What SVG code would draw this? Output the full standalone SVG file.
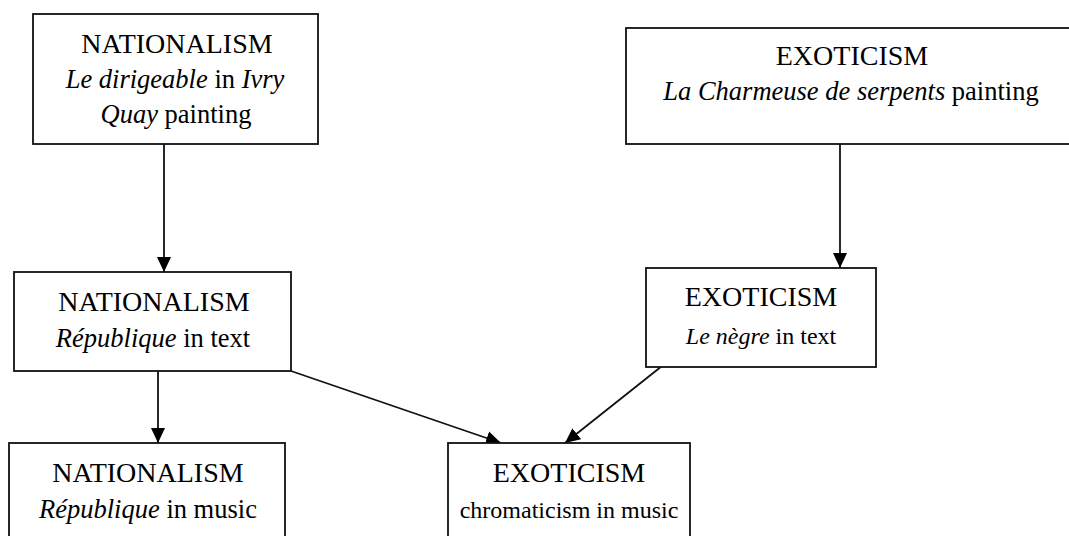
<svg xmlns="http://www.w3.org/2000/svg" width="1069" height="536" viewBox="0 0 1069 536">
  <style>
    .box { fill: #ffffff; stroke: #111111; stroke-width: 1.8; }
    .lbl { font-family: "Liberation Serif", "Times New Roman", serif; font-size: 26.5px; fill: #000000; text-anchor: middle; }
    .cap { font-size: 28px; }
    .sm { font-size: 24px; }
    .it { font-style: italic; }
    .edge { stroke: #111111; stroke-width: 1.8; fill: none; marker-end: url(#arrow); }
  </style>
  <defs>
    <marker id="arrow" markerUnits="userSpaceOnUse" markerWidth="16" markerHeight="16" viewBox="0 0 16 16" refX="15" refY="8" orient="auto">
      <path d="M0,1 L15,8 L0,15 z" fill="#000000"/>
    </marker>
  </defs>

  <g id="connectors">
    <line class="edge" x1="164" y1="144" x2="164" y2="272"/>
    <line class="edge" x1="840" y1="144" x2="840" y2="268"/>
    <line class="edge" x1="158" y1="371" x2="158" y2="443"/>
    <line class="edge" x1="291" y1="371" x2="501" y2="443"/>
    <line class="edge" x1="662" y1="366" x2="565" y2="443"/>
  </g>

  <g id="nat-painting">
    <rect class="box" x="33" y="14" width="285" height="130"/>
    <text class="lbl cap" x="177" y="53">NATIONALISM</text>
    <text class="lbl" x="175" y="88"><tspan class="it">Le dirigeable</tspan> in <tspan class="it">Ivry</tspan></text>
    <text class="lbl" x="176" y="123"><tspan class="it">Quay</tspan> painting</text>
  </g>

  <g id="exo-painting">
    <rect class="box" x="626" y="28" width="452" height="116"/>
    <text class="lbl cap" x="852" y="65">EXOTICISM</text>
    <text class="lbl" x="851" y="100"><tspan class="it">La Charmeuse de serpents</tspan> painting</text>
  </g>

  <g id="nat-text">
    <rect class="box" x="14" y="272" width="277" height="99"/>
    <text class="lbl cap" x="154" y="311">NATIONALISM</text>
    <text class="lbl" x="153" y="347"><tspan class="it">République</tspan> in text</text>
  </g>

  <g id="exo-text">
    <rect class="box" x="646" y="268" width="230" height="99"/>
    <text class="lbl cap" x="761" y="306">EXOTICISM</text>
    <text class="lbl sm" x="761" y="344"><tspan class="it">Le nègre</tspan> in text</text>
  </g>

  <g id="nat-music">
    <rect class="box" x="9" y="443" width="276" height="100"/>
    <text class="lbl cap" x="148" y="482">NATIONALISM</text>
    <text class="lbl" x="148" y="518"><tspan class="it">République</tspan> in music</text>
  </g>

  <g id="exo-music">
    <rect class="box" x="448" y="443" width="242" height="100"/>
    <text class="lbl cap" x="569" y="482">EXOTICISM</text>
    <text class="lbl sm" x="569" y="518">chromaticism in music</text>
  </g>
</svg>
